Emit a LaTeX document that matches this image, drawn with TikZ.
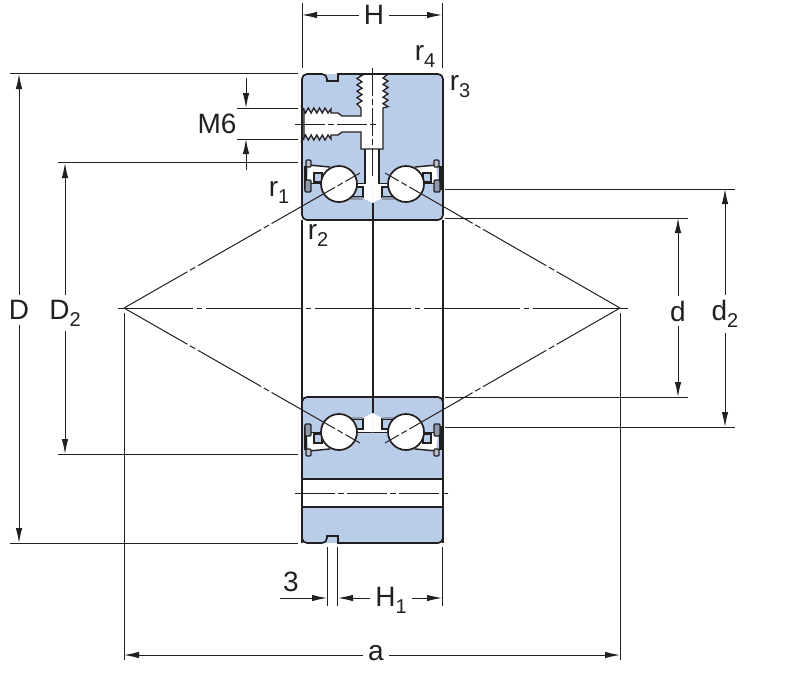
\documentclass[tikz,border=0pt]{standalone}
\usepackage{fontspec}
\setmainfont{Liberation Sans}
\usetikzlibrary{arrows.meta}

\definecolor{ink}{HTML}{231F20}
\definecolor{ringblue}{HTML}{B9CDE9}
\definecolor{cagegray}{HTML}{8E9AAC}

\newcommand{\lblsub}[2]{#1\raisebox{-7pt}{\fontsize{20}{22}\selectfont #2}}

\tikzset{
  outline/.style={draw=ink, line width=1.7pt},
  thinline/.style={draw=ink, line width=1pt},
  portline/.style={draw=ink, line width=1.3pt},
  centerline/.style={thinline, dash pattern=on 73pt off 3pt on 6pt off 3pt},
  dimarrow/.style={thinline, -{Latex[length=15pt, width=6.5pt]}},
  dimlabel/.style={text=ink, font=\fontsize{28}{30}\selectfont, inner sep=1pt},
  gaplabel/.style={dimlabel, inner sep=5pt}
}

\begin{document}
\begin{tikzpicture}[x=1pt, y=-1pt]
  \useasboundingbox (0, 0) rectangle (800, 673);

  % rings
  \fill [ringblue, rounded corners=5pt] (302, 74) rectangle (443, 220);
  \fill [ringblue, rounded corners=5pt] (302, 397) rectangle (443, 543);
  \fill [white] (300, 479) rectangle (445, 507);

  % ball rows, drawn once and mirrored
  \foreach \mx/\my in {0/0, 1/0, 0/1, 1/1} {
    \begin{scope}[xshift=\mx*745pt, xscale=1-2*\mx, yshift=-\my*616pt, yscale=1-2*\my]
      \fill [white] (309, 166) -- (332, 168) -- (332, 184) -- (307, 184) -- cycle;
      \draw [thinline, line width=1.4pt] (309, 165) -- (330, 167);
      \draw [thinline, line width=1.4pt] (305, 183.5) -- (325, 183.5);
      \filldraw [thinline, line width=1.2pt, fill=ringblue] (314, 173) rectangle (322, 182);
      \fill [white] (372.5, 183) -- (358, 183) -- (358, 187) -- (363, 187) -- (363, 198) -- (372.5, 203) -- cycle;
      \filldraw [thinline, line width=1.2pt, fill=ringblue] (351, 187) rectangle (363, 197);
      \fill [cagegray] (351, 197) rectangle (363, 199.5);
      \draw [thinline, line width=1.4pt] (350, 183.5) -- (372.5, 183.5);
      % seal
      \draw [ink, line width=3pt] (305, 166) -- (305, 190);
      \filldraw [outline, line width=1.2pt, fill=cagegray!60, rounded corners=1pt] (306, 160) rectangle (311, 167);
      \filldraw [outline, line width=1.2pt, fill=cagegray, rounded corners=1pt] (305, 180) rectangle (311, 192);
      \filldraw [outline, fill=white] (339, 184) circle (18pt);
    \end{scope}
  }

  % lubrication port
  \fill [white] (365, 149) rectangle (379, 186);
  \draw [portline] (365, 149) -- (365, 184) (379, 149) -- (379, 184);
  \filldraw [portline, fill=white] (361, 149) -- (361, 132) -- (342, 132) -- (338, 135) -- (331, 135) -- (331, 139)
    \foreach \i in {0,...,4} { -- ({328-5.6*\i}, 135) -- ({325-5.6*\i}, 140) } -- (304, 139) -- (304, 109)
    \foreach \i in {4,...,0} { -- ({325-5.6*\i}, 108) -- ({328-5.6*\i}, 113) } -- (331, 109) -- (331, 113) -- (338, 113)
    -- (342, 116) -- (361, 116) -- (361, 108)
    \foreach \i in {0,...,4} { -- (357, {104-6.4*\i}) -- (362, {101-6.4*\i}) } -- (358, 74) -- (388, 74)
    \foreach \i in {0,...,4} { -- (383, {78+6.4*\i}) -- (388, {81+6.4*\i}) } -- (383, 108) -- (383, 149) -- cycle;
  \fill [white] (360, 117) rectangle (363, 131);

  % ring outlines
  \draw [outline, rounded corners=5pt] (372, 220) -| (302, 150) |- (327, 74)
    [sharp corners] -- (327, 81) -- (338, 81) -- (338, 74) [rounded corners=5pt] -| (443, 150) |- (372, 220);
  \draw [outline, rounded corners=5pt] (302, 440) |- (443, 397) -- (443, 440);
  \draw [outline] (302, 220) -- (302, 543) (443, 220) -- (443, 543);
  \draw [outline] (302, 479) -- (443, 479) (302, 507) -- (443, 507);
  \draw [outline, rounded corners=5pt] (302, 520) |- (327, 543)
    [sharp corners] -- (327, 536) -- (338, 536) -- (338, 543) [rounded corners=5pt] -| (443, 520);
  \draw [outline, line width=2pt] (372.5, 203) -- (372.5, 413);

  % axes
  \draw [centerline, dash pattern=on 96pt off 4pt on 5pt off 4pt, dash phase=21pt] (118, 308) -- (628, 308);
  \draw [centerline, line width=0.8pt, dash pattern=on 28pt off 3pt on 6pt off 3pt] (372.5, 68) -- (372.5, 178);
  \draw [centerline, line width=0.8pt, dash pattern=on 30pt off 3pt on 6pt off 3pt] (295, 124) -- (378, 124);
  \draw [centerline, dash pattern=on 40pt off 3pt on 6pt off 3pt] (295, 493) -- (451, 493);

  % contact lines
  \coordinate (apex left) at (124, 308);
  \coordinate (apex right) at (620, 308);
  \draw [centerline] (apex left) -- (360, 173);
  \draw [centerline] (apex left) -- (360, 443);
  \draw [centerline] (apex right) -- (385, 173);
  \draw [centerline] (apex right) -- (385, 443);

  % extension lines
  \draw [thinline] (10, 73) -- (298, 73) (10, 543) -- (298, 543);
  \draw [thinline] (58, 162) -- (298, 162) (58, 454) -- (298, 454);
  \draw [thinline] (237, 108) -- (298, 108) (237, 139) -- (298, 139);
  \draw [thinline] (302, 3) -- (302, 68) (442.5, 3) -- (442.5, 68);
  \draw [thinline] (445, 218) -- (688, 218) (445, 397) -- (688, 397);
  \draw [thinline] (445, 189) -- (735, 189) (445, 427) -- (735, 427);
  \draw [thinline] (124, 313) -- (124, 660) (620, 313) -- (620, 660);
  \draw [thinline] (327.5, 547) -- (327.5, 606) (337.5, 547) -- (337.5, 606) (442.5, 547) -- (442.5, 606);

  % dimensions
  \node [gaplabel] (H) at (374, 15) {H};
  \draw [dimarrow] (H) -- (302, 15);
  \draw [dimarrow] (H) -- (442, 15);
  \node [gaplabel] (D) at (19, 310) {D};
  \draw [dimarrow] (D) -- (19, 74);
  \draw [dimarrow] (D) -- (19, 543);
  \node [gaplabel] (D2) at (65, 313) {\lblsub{D}{2}};
  \draw [dimarrow] (D2) -- (65, 163);
  \draw [dimarrow] (D2) -- (65, 454);
  \node [gaplabel] (d) at (678, 311) {d};
  \draw [dimarrow] (d) -- (678, 218);
  \draw [dimarrow] (d) -- (678, 397);
  \node [gaplabel] (d2) at (725, 314) {\lblsub{d}{2}};
  \draw [dimarrow] (d2) -- (725, 189);
  \draw [dimarrow] (d2) -- (725, 427);
  \node [gaplabel] (a) at (376, 653) {a};
  \draw [dimarrow] (a.west |- 0, 655) -- (124, 655);
  \draw [dimarrow] (a.east |- 0, 655) -- (620, 655);
  \node [gaplabel] (H1) at (391, 600) {\lblsub{H}{1}};
  \draw [dimarrow] (H1.west |- 0, 598) -- (338, 598);
  \draw [dimarrow] (H1.east |- 0, 598) -- (442, 598);
  \coordinate (three start) at (280, 598);
  \draw [dimarrow] (three start) -- (327, 598);
  \coordinate (m6 top) at (246, 78);
  \coordinate (m6 bottom) at (246, 170);
  \draw [dimarrow] (m6 top) -- (246, 108);
  \draw [dimarrow] (m6 bottom) -- (246, 139);

  % labels
  \node [dimlabel] (M6) at (217, 124) {M6};
  \node [dimlabel] (r1) at (279, 192) {\lblsub{r}{1}};
  \node [dimlabel] (r2) at (318, 235) {\lblsub{r}{2}};
  \node [dimlabel] (r3) at (460, 87) {\lblsub{r}{3}};
  \node [dimlabel] (r4) at (425, 56) {\lblsub{r}{4}};
  \node [dimlabel] (three) at (291, 582) {3};
\end{tikzpicture}
\end{document}
